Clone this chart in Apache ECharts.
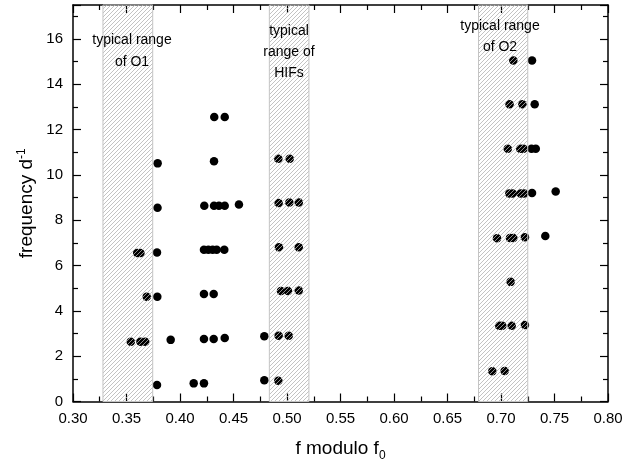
<!DOCTYPE html>
<html><head><meta charset="utf-8">
<script src="https://cdn.jsdelivr.net/npm/echarts/dist/echarts.min.js"></script>
<style>html,body{margin:0;padding:0;background:#fff}#c{width:641px;height:462px}</style>
</head><body><div id="c"></div><script>
// observed frequencies: f modulo f0 (x) and frequency in d^-1 (y)
const fModulo = [
  0.360, 0.363, 0.3785, 0.3689, 0.3788, 0.354, 0.363, 0.3675, 0.3913, 0.3785,
  0.4128, 0.4224, 0.4224, 0.4315, 0.4418, 0.4224, 0.4315,
  0.4224, 0.4265, 0.4305, 0.4343, 0.4414, 0.4788, 0.4788,
  0.432, 0.4418, 0.3791, 0.4318, 0.379, 0.4227, 0.4318, 0.4364, 0.4418, 0.4551,
  0.4919, 0.5025, 0.4922, 0.5022, 0.511, 0.4925, 0.511, 0.4944, 0.5009, 0.511,
  0.4922, 0.5016, 0.4919,
  0.7115, 0.729, 0.708, 0.720, 0.7315, 0.7063, 0.718, 0.721, 0.7285, 0.7325,
  0.7078, 0.711, 0.7184, 0.7215, 0.729, 0.7511,
  0.6963, 0.7084, 0.7115, 0.7224, 0.7414, 0.709,
  0.6984, 0.7012, 0.710, 0.7224, 0.6919, 0.7034
];
const frequency = [
  6.55, 6.55, 6.58, 4.62, 4.62, 2.64, 2.64, 2.64, 2.72, 0.73,
  0.80, 0.80, 2.76, 2.76, 2.80, 4.74, 4.74,
  6.70, 6.70, 6.70, 6.70, 6.70, 2.88, 0.94,
  12.56, 12.56, 10.51, 10.60, 8.55, 8.64, 8.64, 8.64, 8.64, 8.69,
  10.71, 10.71, 8.76, 8.78, 8.78, 6.81, 6.81, 4.88, 4.88, 4.90,
  2.90, 2.90, 0.92,
  15.05, 15.05, 13.12, 13.12, 13.12, 11.16, 11.16, 11.16, 11.16, 11.16,
  9.18, 9.18, 9.18, 9.18, 9.20, 9.27,
  7.20, 7.22, 7.22, 7.25, 7.30, 5.28,
  3.34, 3.34, 3.34, 3.38, 1.33, 1.35
];
// typical ranges (hatched bands)
const bandStart = [0.328, 0.4835, 0.679];
const bandEnd   = [0.3745, 0.5205, 0.725];
const bandText  = ['typical range\nof O1', 'typical\nrange of\nHIFs', 'typical range\nof O2'];
const xTitle = 'f modulo f';
const yTitle = 'frequency d';

// hatch pattern
const pc = document.createElement('canvas');
pc.width = 4; pc.height = 4;
const g = pc.getContext('2d');
g.strokeStyle = '#b4b4b4'; g.lineWidth = 0.8;
g.beginPath();
g.moveTo(0, 4); g.lineTo(4, 0);
g.moveTo(-1, 1); g.lineTo(1, -1);
g.moveTo(3, 5); g.lineTo(5, 3);
g.stroke();

const chart = echarts.init(document.getElementById('c'));
const font = 'Liberation Sans, Arial, sans-serif';
const pts = fModulo.map((x, i) => [x, frequency[i]]);
const areas = bandStart.map((s, i) => [{xAxis: s}, {xAxis: bandEnd[i]}]);

const tickCommon = {inside: true, length: 8, lineStyle: {color: '#000', width: 1.2}};
const minorCommon = {show: true, splitNumber: 2, length: 5, lineStyle: {color: '#000', width: 1.2}};
const lineCommon = {show: true, onZero: false, lineStyle: {color: '#000', width: 1.5}};

chart.setOption({
  animation: false,
  backgroundColor: '#fff',
  grid: {left: 73, right: 33, top: 5, bottom: 60.5, containLabel: false, outerBoundsMode: 'none'},
  xAxis: [{
    type: 'value', min: 0.3, max: 0.8, interval: 0.05,
    axisLine: lineCommon, axisTick: tickCommon, minorTick: minorCommon,
    splitLine: {show: false},
    axisLabel: {color: '#000', fontSize: 15, fontFamily: font, margin: 10,
      formatter: v => v.toFixed(2)},
    name: '{a|' + xTitle + '}{s|0}', nameLocation: 'middle', nameGap: 34, nameMoveOverlap: false,
    nameTextStyle: {rich: {
      a: {fontSize: 19, fontFamily: font, color: '#000'},
      s: {fontSize: 12, fontFamily: font, color: '#000', verticalAlign: 'bottom', padding: [14, 0, 0, 0]}
    }}
  }, {
    type: 'value', position: 'top', min: 0.3, max: 0.8, interval: 0.05,
    axisLine: lineCommon, axisTick: tickCommon, minorTick: minorCommon,
    splitLine: {show: false}, axisLabel: {show: false}
  }],
  yAxis: [{
    type: 'value', min: 0, max: 17.5, interval: 2,
    axisLine: lineCommon, axisTick: tickCommon, minorTick: minorCommon,
    splitLine: {show: false},
    axisLabel: {color: '#000', fontSize: 15, fontFamily: font, margin: 10, showMaxLabel: false},
    name: '{a|' + yTitle + '}{s|-1}', nameLocation: 'middle', nameGap: 35, nameMoveOverlap: false,
    nameTextStyle: {rich: {
      a: {fontSize: 19, fontFamily: font, color: '#000'},
      s: {fontSize: 12, fontFamily: font, color: '#000', verticalAlign: 'top', padding: [0, 0, 10, 0]}
    }}
  }, {
    type: 'value', position: 'right', min: 0, max: 17.5, interval: 2,
    axisLine: lineCommon, axisTick: tickCommon, minorTick: minorCommon,
    splitLine: {show: false}, axisLabel: {show: false}
  }],
  series: [{
    type: 'scatter', z: 2,
    symbol: 'circle', symbolSize: 8.5,
    itemStyle: {color: '#000', opacity: 1},
    data: pts
  }, {
    type: 'scatter', z: 5, data: [],
    markArea: {
      silent: true, z: 10,
      itemStyle: {color: {image: pc, repeat: 'repeat'}, borderColor: '#c4c4c4', borderWidth: 1},
      label: {show: false},
      data: areas
    }
  }],
  graphic: [
    {type: 'text', x: 132, y: 51, z: 20, style: {text: bandText[0], fill: '#000', font: '14px ' + font, align: 'center', verticalAlign: 'middle', lineHeight: 21.5}},
    {type: 'text', x: 289, y: 52, z: 20, style: {text: bandText[1], fill: '#000', font: '14px ' + font, align: 'center', verticalAlign: 'middle', lineHeight: 21}},
    {type: 'text', x: 500, y: 36.5, z: 20, style: {text: bandText[2], fill: '#000', font: '14px ' + font, align: 'center', verticalAlign: 'middle', lineHeight: 21}}
  ]
});
</script></body></html>
